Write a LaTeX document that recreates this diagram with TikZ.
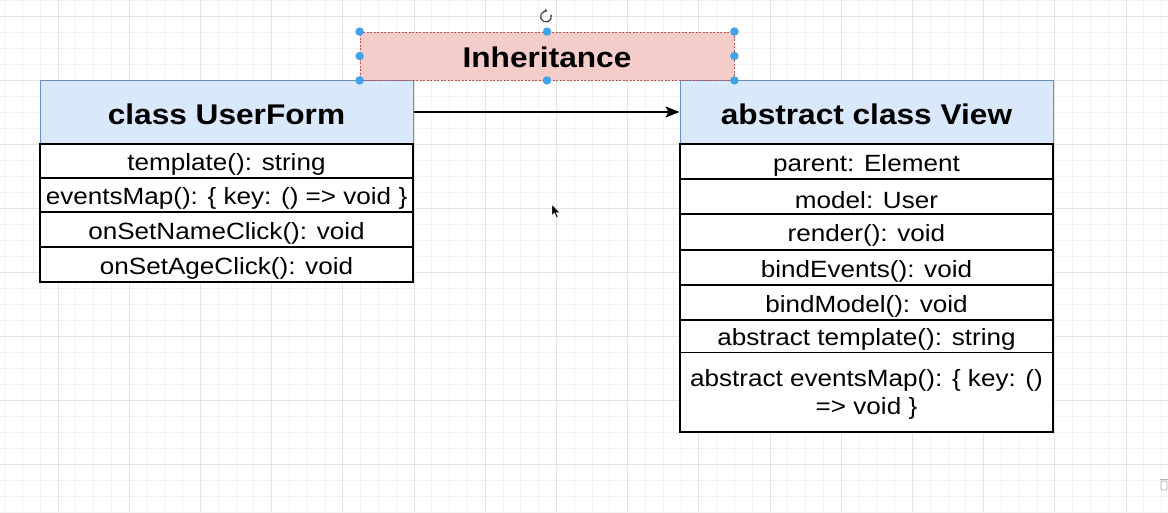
\documentclass[tikz,border=0pt]{standalone}
\usepackage{fontspec}
\setmainfont{Liberation Sans}
\usepackage{graphicx}
\usetikzlibrary{arrows.meta}
\definecolor{hdr}{HTML}{DAE8FC}
\definecolor{hdrb}{HTML}{6C8EBF}
\definecolor{pink}{HTML}{F4CDCB}
\definecolor{pinkb}{HTML}{B85450}
\definecolor{hcol}{HTML}{42A2EA}
\definecolor{gridm}{HTML}{F2F2F2}
\definecolor{gridM}{HTML}{E4E4E4}
\newcommand{\hs}[1]{\scalebox{1.11}[1]{#1}}
\newcommand{\dn}[2]{\raisebox{-#1}[\height][\depth]{\hs{#2}}}
\begin{document}
\begin{tikzpicture}[x=1pt,y=-1pt,
  hdrbox/.style={draw=hdrb, fill=hdr, line width=1pt, minimum width=373pt, minimum height=64pt, inner sep=0pt, font=\fontsize{28.5}{32}\selectfont\bfseries},
  rowbox/.style={draw=black, line width=1.4pt, fill=white, minimum width=373pt, inner sep=0pt, font=\fontsize{23.5}{28}\selectfont},
  inhbox/.style={draw=pinkb, fill=pink, dashed, dash pattern=on 2pt off 1.5pt, line width=0.8pt, minimum width=374pt, minimum height=48pt, inner sep=0pt, font=\fontsize{28.5}{32}\selectfont\bfseries},
  handle/.style={circle, fill=hcol, inner sep=0pt, minimum size=8.5pt},
  gminor/.style={draw=gridm, line width=0.9pt},
  gmajor/.style={draw=gridM, line width=0.9pt},
  conn/.style={draw=black, line width=1.3pt, -{Stealth[length=14pt,width=11pt,inset=3pt]}}
]
\useasboundingbox (0,0) rectangle (1168,512);
\fill[white] (0,0) rectangle (1168,512);
% grid
\foreach \i in {0,...,65} {\draw[gminor] ({4.7+17.8*\i},0) -- ++(0,512);}
\foreach \i in {0,...,32} {\draw[gminor] (0,{0.3+16*\i}) -- ++(1168,0);}
\foreach \i in {0,...,15} {\draw[gmajor] ({58.1+71.2*\i},0) -- ++(0,512);}
\foreach \i in {0,...,7} {\draw[gmajor] (0,{16.3+64*\i}) -- ++(1168,0);}

% class UserForm
\node[hdrbox] (ufh) at (226.5,112) {\dn{2.5pt}{class UserForm}};
\node[rowbox, minimum height=34pt] (uf1) at (226.5,161) {\dn{3.7pt}{template(): string}};
\node[rowbox, minimum height=34pt] (uf2) at (226.5,195) {\dn{3.7pt}{eventsMap(): \{ key: () => void \}}};
\node[rowbox, minimum height=35pt] (uf3) at (226.5,229.5) {\dn{3.7pt}{onSetNameClick(): void}};
\node[rowbox, minimum height=35pt] (uf4) at (226.5,264.5) {\dn{3.7pt}{onSetAgeClick(): void}};

% abstract class View
\node[hdrbox] (vh) at (866.5,112) {\dn{2.5pt}{abstract class View}};
\node[rowbox, minimum height=35pt] (v1) at (866.5,161.5) {\dn{3.8pt}{parent: Element}};
\node[rowbox, minimum height=35pt] (v2) at (866.5,196.5) {\dn{3.8pt}{model: User}};
\node[rowbox, minimum height=36pt] (v3) at (866.5,232) {\dn{3.8pt}{render(): void}};
\node[rowbox, minimum height=35pt] (v4) at (866.5,267.5) {\dn{3.8pt}{bindEvents(): void}};
\node[rowbox, minimum height=35pt] (v5) at (866.5,302.5) {\dn{3.8pt}{bindModel(): void}};
\node[rowbox, minimum height=32.5pt] (v6) at (866.5,336.25) {\dn{3.5pt}{abstract template(): string}};
\node[rowbox, minimum height=79.5pt] (v7) at (866.5,392.25) {\dn{3pt}{\begin{tabular}{@{}c@{}}abstract eventsMap(): \{ key: ()\\=> void \}\end{tabular}}};

% inheritance arrow
\draw[conn] (ufh.east) -- (vh.west);

% Inheritance label box (selected)
\node[inhbox] (inh) at (547,56) {\dn{1.5pt}{Inheritance}};
\foreach \a [count=\i] in {north west, north, north east, west, east, south west, south, south east}
  {\node[handle] (h\i) at (inh.\a) {};}

% rotate icon
\coordinate (rot) at (546,16.5);
\draw[line width=1.3pt, black!70, -{Stealth[length=3pt,width=4pt]}] ([shift={(-20:5.5)}]rot) arc[start angle=-20, end angle=285, radius=5.5];

% mouse cursor
\coordinate (cur) at (552,204.5);
\filldraw[black, draw=white, line width=0.4pt] (cur) -- ++(0,11) -- ++(2.5,-2.5) -- ++(2,4.5) -- ++(1.6,-0.7) -- ++(-2,-4.3) -- ++(3.5,0) -- cycle;

% trash icon (partially visible)
\coordinate (tr) at (1164,484);
\draw[black!30, line width=0.8pt, rounded corners=1pt] ([shift={(-3,-3)}]tr) rectangle ([shift={(3,6)}]tr);
\draw[black!30, line width=0.8pt] ([shift={(-4.5,-4.5)}]tr) -- ([shift={(4.5,-4.5)}]tr);
\end{tikzpicture}
\end{document}
